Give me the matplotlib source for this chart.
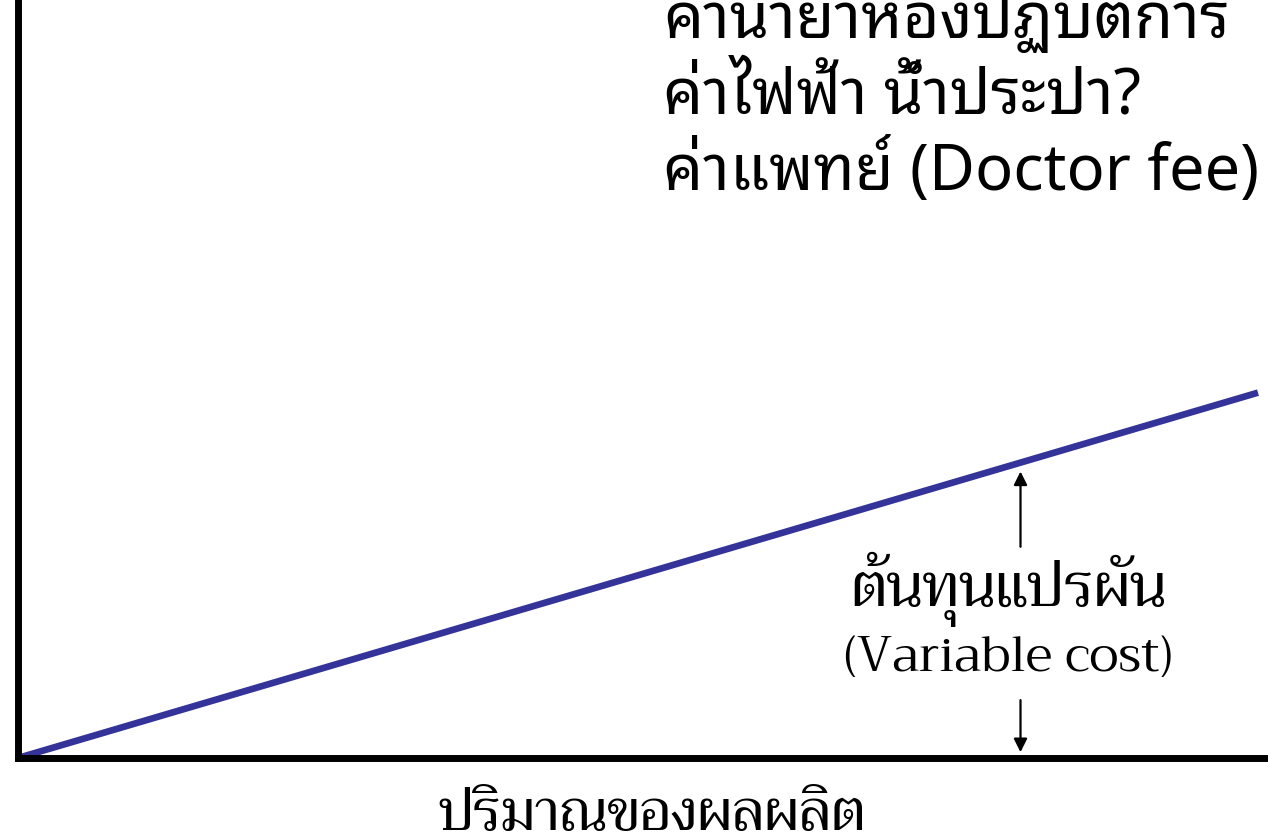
import matplotlib
matplotlib.use("Agg")
from matplotlib import pyplot as plt
from matplotlib import font_manager

# fonts with thai glyphs
names = set(f.name for f in font_manager.fontManager.ttflist)
def pick(prefs):
    for p in prefs:
        if p in names:
            return p
    return "DejaVu Sans"

sans_thai = pick(["Noto Sans Thai Looped", "Sarabun", "Niramit", "K2D", "Noto Sans Thai"])
serif_thai = pick(["Trirong", "Taviraj", "Noto Serif Thai"])

# data
quantity = [0, 99.2]
variable_cost = [0, 48.2]
arrow_x = 80.2
top_lines = ["ค่าน้ำยาห้องปฏิบัติการ", "ค่าไฟฟ้า น้ำประปา?", "ค่าแพทย์ (Doctor fee)"]
vc_label_th = "ต้นทุนแปรผัน"
vc_label_en = "(Variable cost)"
x_label = "ปริมาณของผลผลิต"

fig = plt.figure(figsize=(12.68, 8.33), dpi=100)
ax = fig.add_axes([18 / 1268, 75 / 833, 1250 / 1268, 758 / 833])
ax.set_xlim(0, 100)
ax.set_ylim(0, 100)
for s in ["top", "right"]:
    ax.spines[s].set_visible(False)
for s in ["left", "bottom"]:
    ax.spines[s].set_linewidth(5)
    ax.spines[s].set_color("black")
ax.set_xticks([])
ax.set_yticks([])

ax.plot(quantity, variable_cost, color="#333399", lw=4.8, solid_capstyle="butt", clip_on=False)

line_y = variable_cost[1] * arrow_x / quantity[1]
ax.annotate("", xy=(arrow_x, line_y - 0.8), xytext=(arrow_x, 27.5),
            arrowprops=dict(arrowstyle="-|>", color="black", lw=1.6, mutation_scale=20))
ax.annotate("", xy=(arrow_x, 0.4), xytext=(arrow_x, 8.0),
            arrowprops=dict(arrowstyle="-|>", color="black", lw=1.6, mutation_scale=20))

ax.text(79.2, 22.3, vc_label_th, ha="center", va="center", fontsize=43,
        family=[serif_thai, "DejaVu Serif"])
ax.text(79.2, 13.0, vc_label_en, ha="center", va="center", fontsize=35.5,
        family=[serif_thai, "DejaVu Serif"])

fig.text(652 / 1268, 1 - 790 / 833, x_label, ha="center", va="top", fontsize=41,
         family=[serif_thai, "DejaVu Serif"])

base_y = [38, 114, 190]
for txt, by in zip(top_lines, base_y):
    fig.text(663 / 1268, 1 - by / 833, txt, ha="left", va="baseline", fontsize=45.5,
             family=[sans_thai, "DejaVu Sans"])

fig.savefig("out.png", dpi=100)
